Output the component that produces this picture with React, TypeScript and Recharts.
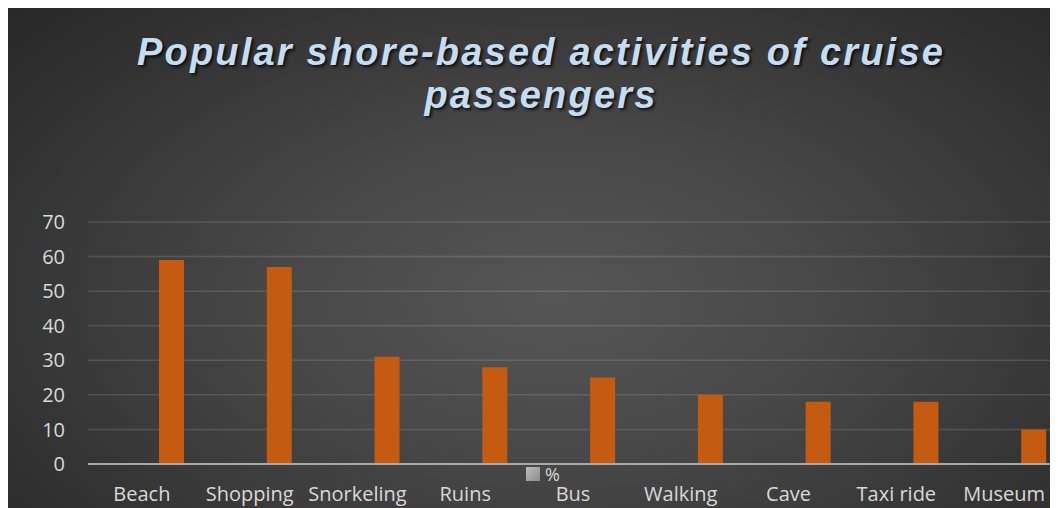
import React from 'react';
import { Bar, BarChart, CartesianGrid, Legend, XAxis, YAxis } from 'recharts';

// categories and values
const activities = ['Beach', 'Shopping', 'Snorkeling', 'Ruins', 'Bus', 'Walking', 'Cave', 'Taxi ride', 'Museum'];
const percents = [59, 57, 31, 28, 25, 20, 18, 18, 10];
const yTicks = [0, 10, 20, 30, 40, 50, 60, 70];
const seriesName = '%';

const data = activities.map((name, i) => ({ name, pct: percents[i] }));

const W = 1050;
const H = 500;
const labelFont = '"Open Sans", sans-serif';

function LegendBox() {
  return (
    <div style={{ display: 'flex', alignItems: 'center', fontFamily: labelFont, fontSize: 18, lineHeight: '18px', color: '#d9d9d9' }}>
      <span style={{ width: 14, height: 14, background: 'linear-gradient(135deg, #bdbdbd, #8c8c8c)', marginRight: 5, display: 'inline-block' }} />
      <span>{seriesName}</span>
    </div>
  );
}

export default function App() {
  return (
    <div
      style={{
        position: 'relative',
        width: W,
        height: H,
        overflow: 'hidden',
        background: 'radial-gradient(ellipse 75% 90% at 52% 58%, #565656 0%, #484848 35%, #2f2f2f 80%, #262626 100%)',
      }}
    >
      <div
        style={{
          position: 'absolute',
          top: 23,
          left: 8,
          width: W,
          textAlign: 'center',
          fontFamily: '"Liberation Sans", Arial, sans-serif',
          fontWeight: 'bold',
          fontStyle: 'italic',
          fontSize: 38,
          lineHeight: '43px',
          letterSpacing: 2.2,
          color: '#c6dcf0',
          textShadow: '2px 2px 3px rgba(0,0,0,0.75)',
        }}
      >
        Popular shore-based activities of cruise
        <br />
        passengers
      </div>
      <BarChart
        width={W}
        height={H}
        data={data}
        margin={{ top: 214, right: 0, left: 0, bottom: 0 }}
        barSize={25}
        barGap={34}
      >
        <CartesianGrid vertical={false} stroke="rgba(255,255,255,0.13)" strokeWidth={1.5} />
        <XAxis
          dataKey="name"
          height={44}
          interval={0}
          tickSize={0}
          tickMargin={23}
          axisLine={{ stroke: '#a8a8a8', strokeWidth: 2 }}
          tick={{ fill: '#d9d9d9', fontSize: 20, fontFamily: labelFont }}
        />
        <YAxis
          width={80}
          domain={[0, 70]}
          ticks={yTicks}
          axisLine={false}
          tickSize={0}
          tickMargin={23}
          tick={{ fill: '#d9d9d9', fontSize: 20, fontFamily: labelFont }}
        />
        <Legend
          content={() => <LegendBox />}
          wrapperStyle={{ position: 'absolute', top: 457, left: 518, width: 60, height: 0, overflow: 'visible' }}
        />
        {/* empty first slot: the visible bar sits to the right of each category */}
        <Bar dataKey="spacer" legendType="none" isAnimationActive={false} />
        <Bar dataKey="pct" name={seriesName} fill="#c55a11" isAnimationActive={false} />
      </BarChart>
    </div>
  );
}
